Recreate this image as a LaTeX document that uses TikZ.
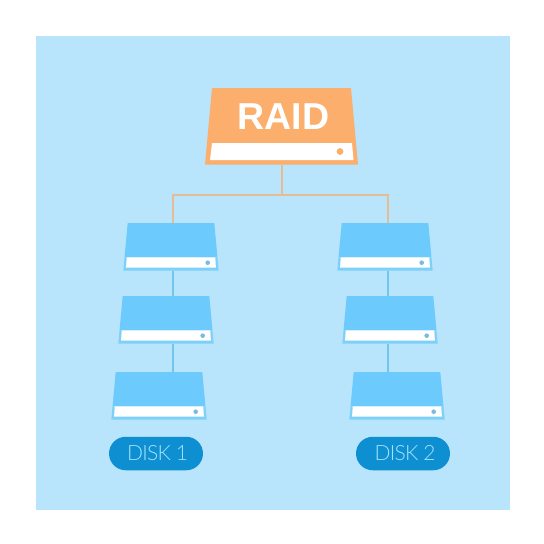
\documentclass[tikz,border=0pt]{standalone}
\usepackage{fontspec}
\setmainfont{Liberation Sans}
\newfontfamily\lightfont[LetterSpace=-3.5]{Lato Light}
\definecolor{bgblue}{HTML}{B8E5FB}
\definecolor{diskfill}{HTML}{6CCAFD}
\definecolor{diskedge}{HTML}{7DD0F8}
\definecolor{bluelink}{HTML}{72C6EE}
\definecolor{orangefill}{HTML}{FCAE6C}
\definecolor{orangelink}{HTML}{E6BC92}
\definecolor{pillblue}{HTML}{0E8FD2}
\definecolor{pilltext}{HTML}{A5E2FB}
\definecolor{dotblue}{HTML}{79BCE2}
\usetikzlibrary{shapes.misc}
\tikzset{
  linkblue/.style={draw=bluelink,line width=1.4pt},
  linkorange/.style={draw=orangelink,line width=1.4pt},
  pill/.style={rounded rectangle,fill=pillblue,text=pilltext,minimum width=94pt,minimum height=33.5pt,inner sep=0pt,font=\lightfont\fontsize{21}{21}\selectfont},
}
% name, centre x, top y, connector x
\newcommand{\diskunit}[4]{%
  \fill[diskfill] (#2-43.3,#3) -- (#2+43.3,#3) -- (#2+46.46,#3+34.3) -- (#2-46.46,#3+34.3) -- cycle;
  \fill[diskedge] (#2-46.46,#3+34.3) -- (#2+46.46,#3+34.3) -- (#2+47.7,#3+47.7) -- (#2-47.7,#3+47.7) -- cycle;
  \fill[white] (#2-44.3,#3+34.3) -- (#2+44.3,#3+34.3) -- (#2+44.9,#3+44.7) -- (#2-44.9,#3+44.7) -- cycle;
  \fill[dotblue] (#2+36.7,#3+39.7) circle (2.3);
  \coordinate (#1-top) at (#4,#3);
  \coordinate (#1-bot) at (#4,#3+47.7);
}
\begin{document}
\begin{tikzpicture}[x=1pt,y=-1pt]
\useasboundingbox (0,0) rectangle (544,544);
\fill[white] (0,0) rectangle (544,544);
\fill[bgblue] (36,36) rectangle (510,510);
% disks
\diskunit{aone}{171}{223}{173}
\diskunit{atwo}{166}{296}{173}
\diskunit{athree}{159}{372}{173}
\diskunit{bone}{385}{223}{388}
\diskunit{btwo}{390}{296}{388}
\diskunit{bthree}{397}{372}{388}
% raid
\fill[orangefill] (212,88) -- (351,88) -- (358,164.5) -- (205,164.5) -- cycle;
\fill[white] (212,143) -- (352,143) -- (353.5,160) -- (210,160) -- cycle;
\fill[orangefill] (340,151.5) circle (3.4);
\node[text=white,font=\bfseries\fontsize{37.5}{37.5}\selectfont,inner sep=0pt] (raid) at (283.5,117) {RAID};
\coordinate (raid-bot) at (282,164.5);
\coordinate (bus) at (282,195);
% connectors
\draw[linkorange] (raid-bot) -- (bus);
\draw[linkorange] (aone-top) |- (bus) -| (bone-top);
\draw[linkblue] (aone-bot) -- (atwo-top);
\draw[linkblue] (atwo-bot) -- (athree-top);
\draw[linkblue] (bone-bot) -- (btwo-top);
\draw[linkblue] (btwo-bot) -- (bthree-top);
% labels
\node[pill] (diskone) at (156,453.5) {\hspace*{3.4pt}DISK 1};
\node[pill] (disktwo) at (403,453.5) {\hspace*{4pt}DISK 2};
\end{tikzpicture}
\end{document}
